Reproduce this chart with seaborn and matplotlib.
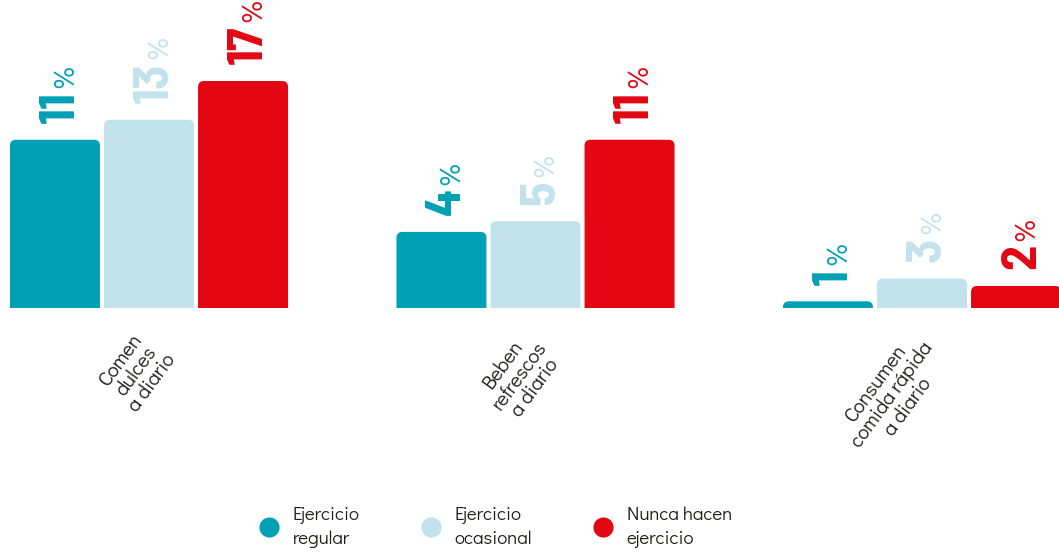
import matplotlib
matplotlib.use("Agg")
import matplotlib.pyplot as plt
from matplotlib.patches import FancyBboxPatch
from matplotlib.lines import Line2D
from matplotlib.transforms import ScaledTranslation
import seaborn as sns
import pandas as pd

# ---- data ----
categories = ["Comen\ndulces\na diario", "Beben\nrefrescos\na diario", "Consumen\ncomida rápida\na diario"]
groups = ["Ejercicio\nregular", "Ejercicio\nocasional", "Nunca hacen\nejercicio"]
# percentages printed above each bar (per category, per group)
label_regular = [11, 4, 1]
label_ocasional = [13, 5, 3]
label_nunca = [17, 11, 2]
# bar lengths as drawn in the reference (same % scale, not proportional to the labels)
height_regular = [12.6, 5.7, 0.5]
height_ocasional = [14.1, 6.5, 2.2]
height_nunca = [17.0, 12.6, 1.65]

colors = ["#00A0B5", "#C2E3EB", "#E30613"]
TEXT = "#1d1d1b"
LABEL_FONT = "Didact Gothic"
NUM_FONT = "Barlow Semi Condensed"

rows = []
for g, labs, hts in zip(groups, [label_regular, label_ocasional, label_nunca],
                        [height_regular, height_ocasional, height_nunca]):
    for c, l, h in zip(categories, labs, hts):
        rows.append({"cat": c, "grupo": g, "valor": l, "altura": h})
df = pd.DataFrame(rows)

sns.set_theme(style="white")
plt.rcParams["font.family"] = [LABEL_FONT, "DejaVu Sans"]

W, H, DPI = 1059, 556, 100
fig = plt.figure(figsize=(W / DPI, H / DPI), dpi=DPI)
base_px = 308
ax = fig.add_axes([0, (H - base_px) / H, 1, base_px / H])

WIDTH = 0.73
sns.barplot(data=df, x="cat", y="altura", hue="grupo", order=categories, hue_order=groups,
            palette=colors, width=WIDTH, gap=0.043, saturation=1, legend=False, ax=ax)

pitch = 386.5
x0 = -149 / pitch
x1 = (W - 149) / pitch
ytop = base_px / (227 / 17.0)
ax.set_xlim(x0, x1)
ax.set_ylim(0, ytop)

x_per_px = (x1 - x0) / W
y_per_px = ytop / base_px
r_px = 6
aspect = y_per_px / x_per_px

lookup = {(r.cat, r.grupo): r.valor for r in df.itertuples()}
slot = WIDTH / 3
bars = [p for p in ax.patches]
for p in bars:
    x, w, h = p.get_x(), p.get_width(), p.get_height()
    fc = p.get_facecolor()
    p.remove()
    xc = x + w / 2
    ci = int(round(xc))
    gi = int(round((xc - ci) / slot)) + 1
    patch = FancyBboxPatch((x, -r_px * y_per_px), w, h + r_px * y_per_px,
                           boxstyle=f"round,pad=0,rounding_size={r_px * x_per_px}",
                           mutation_aspect=aspect, facecolor=fc, edgecolor="none")
    ax.add_patch(patch)
    val = lookup[(categories[ci], groups[gi])]
    num = ax.annotate(str(val), xy=(xc, h), xycoords="data", xytext=(13.5, 12),
                      textcoords="offset points", rotation=90, rotation_mode="anchor",
                      ha="left", va="baseline", fontsize=36, fontweight="bold",
                      family=NUM_FONT, color=colors[gi], annotation_clip=False)
    ax.annotate("%", xy=(xc, 1.0), xycoords=("data", num), xytext=(13.5, 2.5),
                textcoords="offset points", rotation=90, rotation_mode="anchor",
                ha="left", va="baseline", fontsize=21, family=LABEL_FONT,
                color=colors[gi], annotation_clip=False)

for s in ax.spines.values():
    s.set_visible(False)
ax.set_yticks([])
ax.set_xlabel("")
ax.set_ylabel("")
ax.set_xticks(range(len(categories)))
ax.set_xticklabels(categories, rotation=54, ha="right", va="center", rotation_mode="anchor",
                   multialignment="center", fontsize=14.5, color=TEXT, family=LABEL_FONT,
                   linespacing=1.05)
ax.tick_params(axis="x", length=0, pad=26)
for lab in ax.get_xticklabels():
    lab.set_transform(lab.get_transform() + ScaledTranslation(7 / DPI, 0, fig.dpi_scale_trans))
ax.patch.set_alpha(0)

handles = [Line2D([], [], marker="o", ls="", markersize=14.5, markerfacecolor=c,
                  markeredgewidth=0) for c in colors]
leg = fig.legend(handles, groups, loc="center left", bbox_to_anchor=(260 / W, 1 - 527 / H),
                 ncol=3, frameon=False, handlelength=1.0, handletextpad=0.75,
                 columnspacing=3.3, borderpad=0, borderaxespad=0,
                 prop={"family": LABEL_FONT, "size": 13.5})
for t in leg.get_texts():
    t.set_color(TEXT)
    t.set_linespacing(1.45)

fig.savefig("out.png", dpi=DPI)
